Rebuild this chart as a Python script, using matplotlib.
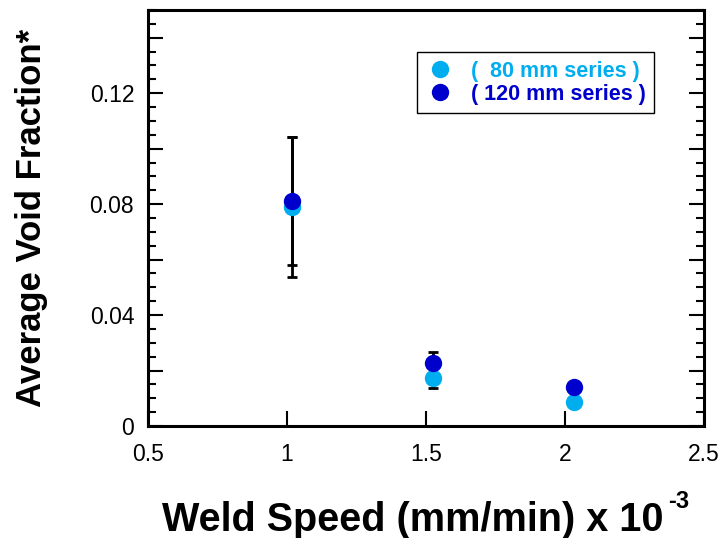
import matplotlib
matplotlib.use("Agg")
import matplotlib.pyplot as plt
from matplotlib.ticker import MultipleLocator, FuncFormatter, FixedLocator
from matplotlib.lines import Line2D

plt.rcParams['font.family'] = ['Liberation Sans', 'DejaVu Sans']

# Data
speed_80 = [1.018, 1.525, 2.034]
void_80 = [0.0790, 0.0173, 0.0088]
err_80 = [0.0252, 0.0037, 0.0]

speed_120 = [1.018, 1.525, 2.034]
void_120 = [0.0810, 0.0228, 0.0142]
err_120 = [0.0231, 0.0040, 0.0]

series_labels = ['(  80 mm series )', '( 120 mm series )']
c80 = '#00AEEF'
c120 = '#0000CC'

fig = plt.figure(figsize=(7.2, 5.38), dpi=100)
ax = fig.add_axes([0.2056, 0.2082, 0.7722, 0.7732])

ax.errorbar(speed_80, void_80, yerr=err_80, fmt='none', ecolor='black',
            elinewidth=2, capsize=3.5, capthick=2, zorder=2)
ax.errorbar(speed_120, void_120, yerr=err_120, fmt='none', ecolor='black',
            elinewidth=2, capsize=3.5, capthick=2, zorder=2)
ax.plot(speed_80, void_80, 'o', color=c80, markersize=12.5, markeredgewidth=0, zorder=3)
ax.plot(speed_120, void_120, 'o', color=c120, markersize=12.5, markeredgewidth=0, zorder=4)

ax.set_xlim(0.5, 2.5)
ax.set_ylim(0, 0.15)
ax.xaxis.set_major_locator(FixedLocator([0.5, 1.0, 1.5, 2.0, 2.5]))
ax.xaxis.set_major_formatter(FuncFormatter(lambda v, p: f'{v:g}'))
ax.yaxis.set_major_locator(MultipleLocator(0.02))
ax.yaxis.set_minor_locator(MultipleLocator(0.005))

def yfmt(v, p):
    k = round(v / 0.02)
    if k % 2 == 0:
        return '0' if k == 0 else f'{v:.2f}'
    return ''
ax.yaxis.set_major_formatter(FuncFormatter(yfmt))

ax.tick_params(axis='x', which='major', direction='in', length=11, width=1.5,
               labelsize=16.5, pad=12, top=False)
ax.tick_params(axis='y', which='major', direction='in', length=11, width=1.5,
               labelsize=16.5, pad=10, right=True)
ax.tick_params(axis='y', which='minor', direction='in', length=6, width=1.5, right=True)
for s in ax.spines.values():
    s.set_linewidth(2.2)

ax.set_ylabel('Average Void Fraction*', fontsize=25, fontweight='bold')
ax.yaxis.set_label_coords(-0.18, 0.5)
ax.set_xlabel('Weld Speed (mm/min) x 10', fontsize=28.5, fontweight='bold')
ax.xaxis.set_label_coords(0.4766, -0.18)
ax.annotate('-3', xy=(1, 1), xycoords=ax.xaxis.label, xytext=(3, 8),
            textcoords='offset points', ha='left', va='top',
            fontsize=17, fontweight='bold')

handles = [Line2D([], [], marker='o', linestyle='none', color=c80, markersize=12.5, markeredgewidth=0),
           Line2D([], [], marker='o', linestyle='none', color=c120, markersize=12.5, markeredgewidth=0)]
leg = ax.legend(handles, series_labels, loc='upper left', bbox_to_anchor=(0.4838, 0.899),
                borderaxespad=0,
                frameon=True, fancybox=False, edgecolor='black', framealpha=1,
                prop={'size': 15.5, 'weight': 'bold'}, handletextpad=0.8,
                labelspacing=0.1, borderpad=0.4, handlelength=1.3)
leg.get_frame().set_linewidth(1.0)
for t, c in zip(leg.get_texts(), [c80, c120]):
    t.set_color(c)

fig.savefig('out.png', dpi=100)
